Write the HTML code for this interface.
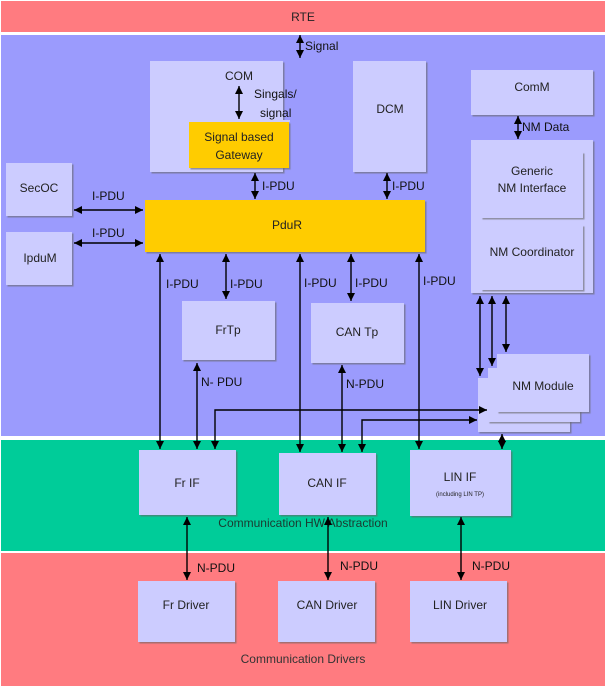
<!DOCTYPE html>
<html><head><meta charset="utf-8"><style>
html,body{margin:0;padding:0;background:#fff;}
svg{display:block;font-family:"Liberation Sans",sans-serif;}
.b{fill:#ccccff;filter:url(#sh);}
.t{font-size:12px;fill:#222;text-anchor:middle;}
.l{font-size:12px;fill:#111;}
.d{stroke:#000;stroke-width:1.4;fill:none;marker-end:url(#ah);marker-start:url(#ah);}
</style></head><body>
<svg width="606" height="689" viewBox="0 0 606 689">
<defs>
<marker id="ah" markerUnits="userSpaceOnUse" markerWidth="10" markerHeight="10" refX="8" refY="5" orient="auto-start-reverse"><path d="M0,1 L8,5 L0,9 z" fill="#000"/></marker>
<filter id="sh" x="-5%" y="-5%" width="115%" height="120%"><feDropShadow dx="1.5" dy="1.5" stdDeviation="0.6" flood-color="#666" flood-opacity="0.6"/></filter>
</defs>
<rect x="0" y="0" width="606" height="689" fill="#fff"/>
<rect x="1" y="1" width="604" height="31" fill="#ff7b80"/>
<text x="303" y="21" class="t">RTE</text>
<rect x="1" y="35" width="604" height="401" fill="#9b9bfd"/>
<rect x="1" y="440" width="604" height="111" fill="#00cc99"/>
<rect x="1" y="553" width="604" height="133" fill="#ff7b80"/>
<text x="303" y="527" class="t" style="fill:#1a3a30">Communication HW Abstraction</text>
<text x="303" y="663" class="t" style="fill:#333">Communication Drivers</text>

<rect class="b" x="150" y="61" width="133" height="111"/>
<text x="239" y="80" class="t">COM</text>
<rect x="189" y="122" width="100" height="46" fill="#ffcc00" filter="url(#sh)"/>
<text x="239" y="141" class="t">Signal based</text>
<text x="239" y="159" class="t">Gateway</text>
<text x="254" y="98" class="l">Singals/</text>
<text x="260" y="117" class="l">signal</text>
<rect x="188" y="120" width="102" height="2" fill="#ccccff"/>
<rect class="b" x="353" y="61" width="73" height="111"/>
<text x="390" y="113" class="t">DCM</text>
<rect class="b" x="471" y="70" width="122" height="45"/>
<text x="532" y="91" class="t">ComM</text>
<rect class="b" x="471" y="140" width="122" height="153"/>
<rect class="b" x="481" y="152" width="102" height="66"/>
<text x="532" y="175" class="t">Generic</text>
<text x="532" y="192" class="t">NM Interface</text>
<rect class="b" x="481" y="225" width="102" height="65"/>
<text x="532" y="256" class="t">NM Coordinator</text>
<rect class="b" x="6" y="163" width="66" height="53"/>
<text x="39" y="192" class="t">SecOC</text>
<rect class="b" x="6" y="232" width="66" height="53"/>
<text x="40" y="262" class="t">IpduM</text>
<rect x="145" y="200" width="280" height="52" fill="#ffcc00" filter="url(#sh)"/>
<text x="287" y="258" class="t" style="display:none"></text>
<text x="287" y="259" class="t" style="display:none"></text>
<text x="287" y="259" class="t" style="display:none"></text>
<text x="287" y="258" class="t" style="display:none"></text>
<text x="287" y="258" class="t" style="display:none"></text>
<text x="287" y="258" class="t" style="display:none"></text>
<text x="287" y="258" class="t" style="display:none"></text>
<text x="287" y="258" class="t" style="display:none"></text>
<text x="287" y="258" class="t" style="display:none"></text>
<text x="287" y="229" class="t">PduR</text>
<rect class="b" x="182" y="301" width="93" height="59"/>
<text x="228" y="334" class="t">FrTp</text>
<rect class="b" x="311" y="303" width="93" height="60"/>
<text x="357" y="336" class="t">CAN Tp</text>
<rect class="b" x="478" y="378" width="92" height="54"/>
<rect class="b" x="488" y="368" width="92" height="54"/>
<rect class="b" x="497" y="354" width="92" height="58"/>
<text x="543" y="390" class="t">NM Module</text>

<rect class="b" x="139" y="450" width="97" height="65"/>
<text x="187" y="487" class="t">Fr IF</text>
<rect class="b" x="279" y="453" width="97" height="62"/>
<text x="327" y="487" class="t">CAN IF</text>
<rect class="b" x="410" y="450" width="101" height="66"/>
<text x="460" y="481" class="t">LIN IF</text>
<text x="460" y="496" class="t" style="font-size:6px">(including LIN TP)</text>
<rect class="b" x="138" y="581" width="97" height="61"/>
<text x="186" y="609" class="t">Fr Driver</text>
<rect class="b" x="278" y="581" width="97" height="61"/>
<text x="327" y="609" class="t">CAN Driver</text>
<rect class="b" x="410" y="581" width="97" height="61"/>
<text x="460" y="609" class="t">LIN Driver</text>

<line class="d" x1="300" y1="35" x2="300" y2="58"/><text x="305" y="50" class="l">Signal</text>
<line class="d" x1="239" y1="86" x2="239" y2="119"/>
<line class="d" x1="255" y1="173" x2="255" y2="199"/><text x="262" y="190" class="l">I-PDU</text>
<line class="d" x1="387" y1="173" x2="387" y2="199"/><text x="392" y="190" class="l">I-PDU</text>
<line class="d" x1="74" y1="210" x2="143" y2="210"/><text x="92" y="200" class="l">I-PDU</text>
<line class="d" x1="74" y1="243" x2="143" y2="243"/><text x="92" y="237" class="l">I-PDU</text>
<line class="d" x1="518" y1="116" x2="518" y2="139"/><text x="522" y="131" class="l">NM Data</text>

<line class="d" x1="160" y1="254" x2="160" y2="449"/><text x="166" y="288" class="l">I-PDU</text>
<line class="d" x1="226" y1="254" x2="226" y2="299"/><text x="230" y="288" class="l">I-PDU</text>
<line class="d" x1="300" y1="254" x2="300" y2="452"/><text x="304" y="287" class="l">I-PDU</text>
<line class="d" x1="351" y1="254" x2="351" y2="301"/><text x="355" y="287" class="l">I-PDU</text>
<line class="d" x1="419" y1="254" x2="419" y2="449"/><text x="423" y="285" class="l">I-PDU</text>

<line class="d" x1="197" y1="363" x2="197" y2="449"/><text x="201" y="386" class="l">N- PDU</text>
<line class="d" x1="342" y1="365" x2="342" y2="452"/><text x="346" y="388" class="l">N-PDU</text>

<line class="d" x1="480" y1="296" x2="480" y2="376"/>
<line class="d" x1="492" y1="296" x2="492" y2="366"/>
<line class="d" x1="506" y1="296" x2="506" y2="352"/>
<path class="d" d="M215,449 L215,410 L487,410"/>
<path class="d" d="M362,452 L362,420 L477,420"/>
<line class="d" x1="502" y1="434" x2="502" y2="449"/>

<line class="d" x1="187" y1="517" x2="187" y2="580"/><text x="197" y="572" class="l">N-PDU</text>
<line class="d" x1="328" y1="517" x2="328" y2="580"/><text x="340" y="570" class="l">N-PDU</text>
<line class="d" x1="461" y1="517" x2="461" y2="580"/><text x="472" y="570" class="l">N-PDU</text>
</svg>
</body></html>
